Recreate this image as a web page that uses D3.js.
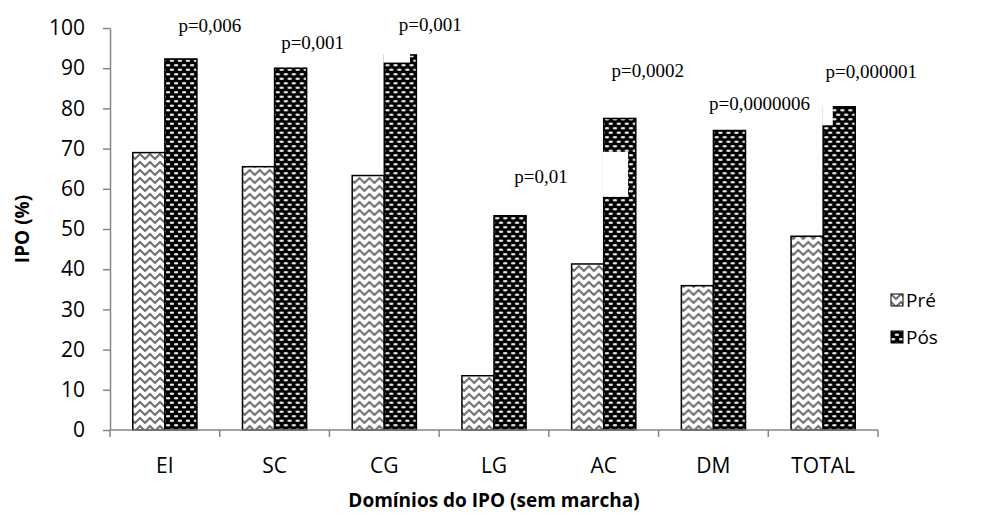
<!DOCTYPE html>
<html>
<head>
<meta charset="utf-8">
<script src="https://cdn.jsdelivr.net/npm/d3@7/dist/d3.min.js"></script>
<style>
  body { margin: 0; background: #fff; }
  text { fill: #000; }
</style>
</head>
<body>
<div id="chart"></div>
<script>
// data
var categories = ["EI", "SC", "CG", "LG", "AC", "DM", "TOTAL"];
var preValues  = [69.0, 65.5, 63.3, 13.5, 41.3, 35.9, 48.2];
var posValues  = [92.3, 90.0, 93.3, 53.3, 77.5, 74.5, 80.4];
var pLabels    = ["p=0,006", "p=0,001", "p=0,001", "p=0,01", "p=0,0002", "p=0,0000006", "p=0,000001"];
// where each p label sits (value units) and how far it's nudged from the Pós bar
var pLabelY    = [100.7, 96.5, 101, 63, 89.5, 81.3, 89.3];
var pLabelDx   = [29, 22, 30, 31, 28, 30, 32];
var yTicks     = [0, 10, 20, 30, 40, 50, 60, 70, 80, 90, 100];
var seriesNames = ["Pré", "Pós"];
// white cut-outs on some Pós bars in the original (category, from, to, share of bar width)
var gaps = [
  { cat: "CG", from: 91.4, to: 94, share: 0.8 },
  { cat: "AC", from: 58.0, to: 69.2, share: 0.76 },
  { cat: "TOTAL", from: 75.8, to: 81, share: 0.3 }
];

var width = 981, height = 515;
var margin = { left: 110, right: 103, top: 28, bottom: 85 };

var svg = d3.select("#chart").append("svg")
  .attr("width", width)
  .attr("height", height);

var defs = svg.append("defs");

// Pré: white with grey zig-zag
var pPre = defs.append("pattern")
  .attr("id", "patPre")
  .attr("patternUnits", "userSpaceOnUse")
  .attr("width", 10).attr("height", 8);
pPre.append("rect").attr("width", 10).attr("height", 8).attr("fill", "#fff");
pPre.append("path")
  .attr("d", "M-1,1 L5,7 L11,1 M-1,-7 L5,-1 L11,-7 M-1,9 L5,15 L11,9")
  .attr("stroke", "#707070")
  .attr("stroke-width", 2)
  .attr("fill", "none");

// Pós: black with light ovals in a brick layout
var pPos = defs.append("pattern")
  .attr("id", "patPos")
  .attr("patternUnits", "userSpaceOnUse")
  .attr("width", 8).attr("height", 9);
pPos.append("rect").attr("width", 8).attr("height", 9).attr("fill", "#000");
pPos.append("ellipse").attr("cx", 2).attr("cy", 2.2).attr("rx", 2.4).attr("ry", 1.2).attr("fill", "#e2e2e2");
pPos.append("ellipse").attr("cx", 6).attr("cy", 6.7).attr("rx", 2.4).attr("ry", 1.2).attr("fill", "#e2e2e2");

var x = d3.scaleBand()
  .domain(categories)
  .range([margin.left, width - margin.right]);

var xIn = d3.scaleBand()
  .domain(seriesNames)
  .range([0, x.bandwidth()])
  .paddingOuter(0.71);

var y = d3.scaleLinear()
  .domain([0, 100])
  .range([430, margin.top]);

var rows = categories.map(function (c, i) {
  return { cat: c, pre: preValues[i], pos: posValues[i], p: pLabels[i], py: pLabelY[i], pdx: pLabelDx[i] };
});

// bars
var groups = svg.append("g").selectAll("g")
  .data(rows)
  .enter()
  .append("g")
  .attr("transform", function (d) { return "translate(" + x(d.cat) + ",0)"; });

groups.append("rect")
  .attr("x", xIn("Pré"))
  .attr("y", function (d) { return y(d.pre); })
  .attr("width", xIn.bandwidth())
  .attr("height", function (d) { return y(0) - y(d.pre); })
  .attr("fill", "url(#patPre)")
  .attr("stroke", "#000")
  .attr("stroke-width", 1.5);

groups.append("rect")
  .attr("x", xIn("Pós"))
  .attr("y", function (d) { return y(d.pos); })
  .attr("width", xIn.bandwidth())
  .attr("height", function (d) { return y(0) - y(d.pos); })
  .attr("fill", "url(#patPos)")
  .attr("stroke", "#000")
  .attr("stroke-width", 1.5);

// white cut-outs
svg.append("g").selectAll("rect")
  .data(gaps)
  .enter()
  .append("rect")
  .attr("x", function (d) { return x(d.cat) + xIn("Pós") - 1; })
  .attr("y", function (d) { return y(d.to); })
  .attr("width", function (d) { return xIn.bandwidth() * d.share + 1; })
  .attr("height", function (d) { return y(d.from) - y(d.to); })
  .attr("fill", "#fff");

// p labels
svg.append("g").selectAll("text")
  .data(rows)
  .enter()
  .append("text")
  .attr("x", function (d) { return x(d.cat) + xIn("Pós") + xIn.bandwidth() / 2 + d.pdx; })
  .attr("y", function (d) { return y(d.py); })
  .attr("dy", "0.35em")
  .attr("text-anchor", "middle")
  .style("font-family", "'Liberation Serif', 'DejaVu Serif', serif")
  .style("font-size", "19px")
  .text(function (d) { return d.p; });

// y axis
var yAxis = svg.append("g")
  .attr("transform", "translate(" + margin.left + ",0)")
  .call(d3.axisLeft(y).tickValues(yTicks).tickSize(7).tickSizeOuter(0).tickPadding(18));
yAxis.select(".domain").attr("stroke", "#868686").attr("stroke-width", 1.5);
yAxis.selectAll(".tick line").attr("stroke", "#868686").attr("stroke-width", 1.5);
yAxis.selectAll(".tick text")
  .style("font-family", "'Open Sans', sans-serif")
  .style("font-size", "21px")
  .attr("fill", "#000");

// x axis line and boundary ticks
var xAxisG = svg.append("g");
xAxisG.append("line")
  .attr("x1", margin.left).attr("x2", width - margin.right)
  .attr("y1", y(0)).attr("y2", y(0))
  .attr("stroke", "#868686").attr("stroke-width", 1.5);
xAxisG.selectAll(".btick")
  .data(categories.concat(["end"]))
  .enter()
  .append("line")
  .attr("class", "btick")
  .attr("x1", function (d) { return d === "end" ? x.range()[1] : x(d); })
  .attr("x2", function (d) { return d === "end" ? x.range()[1] : x(d); })
  .attr("y1", y(0)).attr("y2", y(0) + 7)
  .attr("stroke", "#868686").attr("stroke-width", 1.5);
xAxisG.selectAll(".clabel")
  .data(categories)
  .enter()
  .append("text")
  .attr("class", "clabel")
  .attr("x", function (d) { return x(d) + x.bandwidth() / 2; })
  .attr("y", y(0) + 43)
  .attr("text-anchor", "middle")
  .style("font-family", "'Open Sans', sans-serif")
  .style("font-size", "21px")
  .text(function (d) { return d; });

// axis titles
svg.append("text")
  .attr("x", (margin.left + width - margin.right) / 2)
  .attr("y", 507)
  .attr("text-anchor", "middle")
  .style("font-family", "'Open Sans', sans-serif")
  .style("font-weight", "bold")
  .style("font-size", "19px")
  .text("Domínios do IPO (sem marcha)");

svg.append("text")
  .attr("transform", "translate(29," + y(50) + ") rotate(-90)")
  .attr("text-anchor", "middle")
  .style("font-family", "'Open Sans', sans-serif")
  .style("font-weight", "bold")
  .style("font-size", "19px")
  .text("IPO (%)");

// legend
var legend = svg.append("g").selectAll("g")
  .data(seriesNames)
  .enter()
  .append("g")
  .attr("transform", function (d, i) { return "translate(891," + (300 + i * 37) + ")"; });

legend.append("rect")
  .attr("x", 0).attr("y", -6)
  .attr("width", 12).attr("height", 12)
  .attr("fill", function (d, i) { return i === 0 ? "url(#patPre)" : "url(#patPos)"; })
  .attr("stroke", "#000")
  .attr("stroke-width", 1);

legend.append("text")
  .attr("x", 15)
  .attr("dy", "0.35em")
  .style("font-family", "'Open Sans', sans-serif")
  .style("font-size", "19px")
  .text(function (d) { return d; });
</script>
</body>
</html>
